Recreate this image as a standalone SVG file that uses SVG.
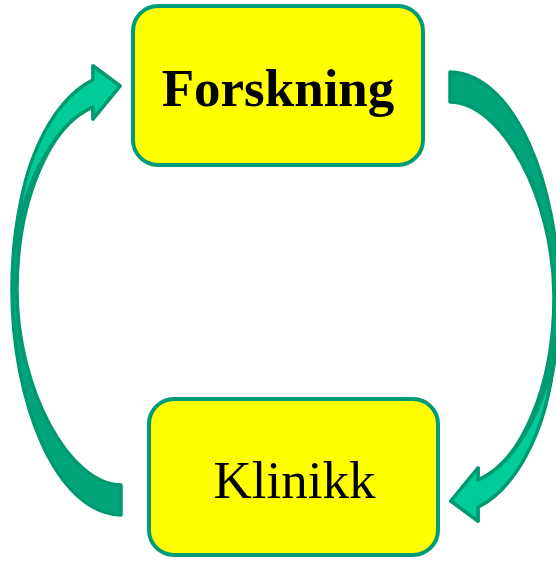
<svg xmlns="http://www.w3.org/2000/svg" xmlns:xlink="http://www.w3.org/1999/xlink" width="556" height="561" viewBox="0 0 556 561">
  <style>
    .box { fill: #FFFF00; stroke: #009B77; stroke-width: 4; }
    .lbl { font-family: "Liberation Serif", "Times New Roman", serif; font-size: 53px; fill: #000000; text-anchor: middle; }
    .back { fill: #00A47A; stroke: #009A70; stroke-width: 3.5; stroke-linejoin: round; }
    .front { fill: #00CC99; stroke: #009A70; stroke-width: 3.5; stroke-linejoin: round; }
  </style>
  <defs>
    <g id="curved-arrow">
      <path class="back" d="M121,515 C55,513 12,400 12,290 C12,180 50,100 93,80 L93,66 L120,86 L93,119 L93,107 C50,125 17,200 17,290 C17,390 70,485 121,485 Z"/>
      <path class="front" d="M93,80 L93,66 L120,86 L93,119 L93,107 C50,125 18,200 17,245 C18,170 50,102 93,80 Z"/>
    </g>
  </defs>
  <g id="connectors">
    <use id="arrow-klinikk-to-forskning" xlink:href="#curved-arrow"/>
    <use id="arrow-forskning-to-klinikk" xlink:href="#curved-arrow" transform="rotate(180 285.5 293.5)"/>
  </g>
  <g id="node-forskning">
    <rect class="box" x="133" y="6" width="290" height="159" rx="25" ry="25"/>
    <text class="lbl" x="278" y="106" font-weight="bold">Forskning</text>
  </g>
  <g id="node-klinikk">
    <rect class="box" x="149" y="399" width="289" height="156" rx="25" ry="25"/>
    <text class="lbl" x="294.5" y="498">Klinikk</text>
  </g>
</svg>
